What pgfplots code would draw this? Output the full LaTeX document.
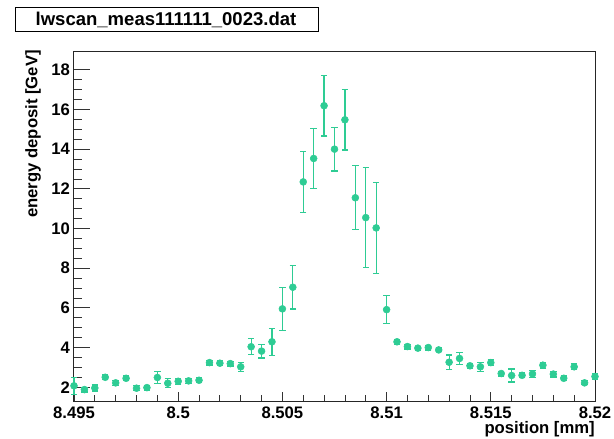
\documentclass[border=0pt]{standalone}
\usepackage{fontspec}
\setmainfont{Liberation Sans}
\usepackage{pgfplots}
\pgfplotsset{compat=1.18}
\usepackage{pgfplotstable}

\definecolor{pointcolor}{RGB}{46,204,148}

% position, energy deposit, error
\pgfplotstableread{
x      y      e
8.495  2.07   0.42
8.4955 1.88   0.12
8.496  1.96   0.15
8.4965 2.50   0.12
8.497  2.22   0.12
8.4975 2.45   0.12
8.498  1.95   0.12
8.4985 1.98   0.12
8.499  2.49   0.32
8.4995 2.20   0.22
8.5    2.30   0.15
8.5005 2.32   0.12
8.501  2.35   0.12
8.5015 3.24   0.12
8.502  3.21   0.12
8.5025 3.19   0.12
8.503  3.03   0.22
8.5035 4.04   0.40
8.504  3.82   0.35
8.5045 4.29   0.68
8.505  5.95   1.08
8.5055 7.04   1.10
8.506  12.35  1.53
8.5065 13.53  1.52
8.507  16.19  1.53
8.5075 14.00  1.10
8.508  15.48  1.52
8.5085 11.55  1.62
8.509  10.55  2.53
8.5095 10.03  2.29
8.51   5.91   0.70
8.5105 4.29   0.12
8.511  4.05   0.12
8.5115 3.97   0.10
8.512  4.00   0.12
8.5125 3.88   0.10
8.513  3.26   0.36
8.5135 3.45   0.30
8.514  3.08   0.12
8.5145 3.03   0.22
8.515  3.24   0.15
8.5155 2.69   0.12
8.516  2.59   0.33
8.5165 2.60   0.12
8.517  2.67   0.17
8.5175 3.11   0.15
8.518  2.66   0.15
8.5185 2.45   0.12
8.519  3.03   0.15
8.5195 2.22   0.10
8.52   2.54   0.15
}\scan

\begin{document}
\begin{tikzpicture}
\path[use as bounding box] (0,0) rectangle (460.5pt,329.25pt);
% title box
\draw[line width=0.75pt] (11.25pt,305.25pt) rectangle (238.5pt,323.25pt);
\node[anchor=base, inner sep=0pt, font=\bfseries\fontsize{13.9}{16}\selectfont]
  at (124.5pt,309.75pt) {lwscan\_meas111111\_0023.dat};
\begin{axis}[
  at={(55.5pt,27.98pt)}, anchor=south west,
  scale only axis,
  width=390.75pt, height=262.3pt,
  xmin=8.495, xmax=8.52,
  ymin=1.27, ymax=18.9,
  xtick={8.495,8.5,8.505,8.51,8.515,8.52},
  xticklabels={8.495,8.5,8.505,8.51,8.515,8.52},
  ytick={2,4,...,18},
  minor x tick num=4,
  minor y tick num=3,
  tick pos=left,
  tick align=inside,
  xtick style={/pgfplots/major tick length=7.5pt, /pgfplots/minor tick length=4.8pt, line width=0.6pt, black!80},
  ytick style={/pgfplots/major tick length=12pt, /pgfplots/minor tick length=6pt, line width=0.6pt, black!80},
  axis line style={line width=0.75pt, black!85},
  /pgf/number format/assume math mode=true,
  ticklabel style={font=\bfseries\fontsize{12.5}{14}\selectfont, inner sep=0pt, outer sep=0pt},
  xticklabel style={anchor=north, yshift=-3.75pt},
  yticklabel style={anchor=east, xshift=-3pt},
  xlabel={position [mm]},
  ylabel={energy deposit [GeV]},
  label style={font=\bfseries\fontsize{12.5}{14}\selectfont, inner sep=0pt},
  xlabel style={at={(axis description cs:1,-0.0905)}, anchor=base east},
  ylabel style={at={(axis description cs:-0.0701,1.006)}, anchor=base east},
  clip=false,
]
\addplot[
  only marks, mark=*, mark size=2.6pt,
  mark options={draw=pointcolor, fill=pointcolor},
  color=pointcolor,
  error bars/.cd, y dir=both, y explicit,
  error mark=|,
  error bar style={line width=0.9pt, pointcolor},
  error mark options={line width=0.9pt, mark size=2.4pt, pointcolor},
] table[x=x, y=y, y error=e] {\scan};
\end{axis}
\end{tikzpicture}
\end{document}
